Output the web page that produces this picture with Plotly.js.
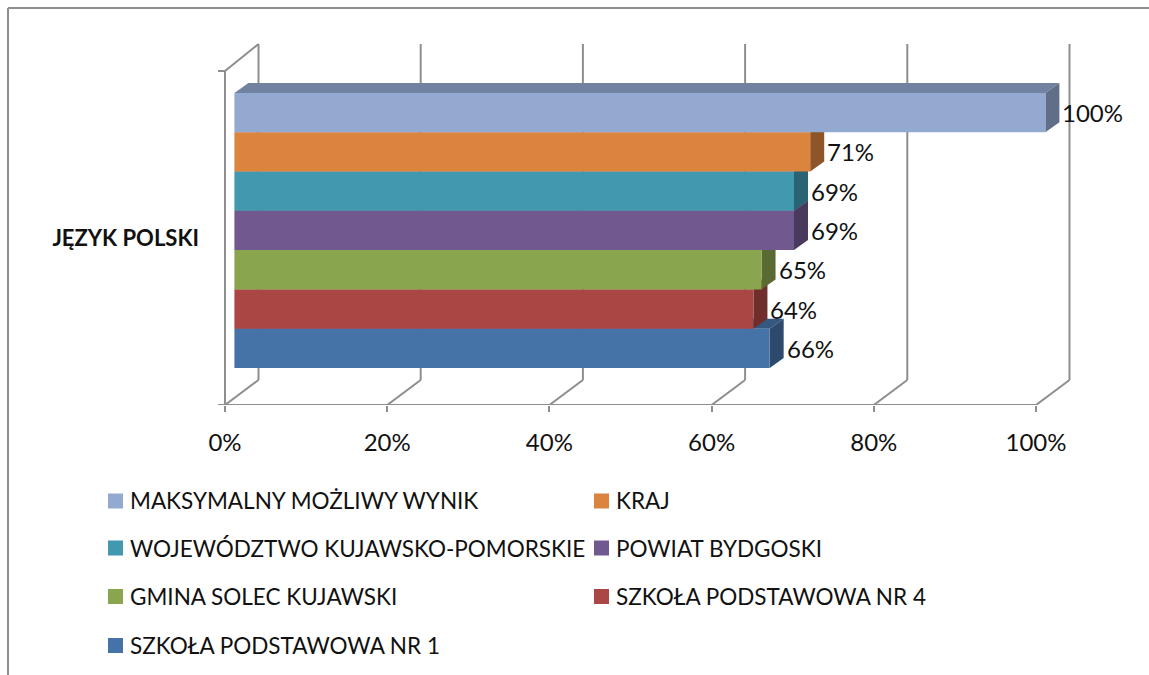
<!DOCTYPE html>
<html><head><meta charset="utf-8">
<script src="https://cdn.plot.ly/plotly-3.0.1.min.js"></script>
<style>html,body{margin:0;padding:0;background:#fff;overflow:hidden}</style>
</head><body><div id="chart" style="width:1149px;height:675px"></div>
<script>
const categories = ["JĘZYK POLSKI"];
const seriesNames = ["SZKOŁA PODSTAWOWA NR 1","SZKOŁA PODSTAWOWA NR 4","GMINA SOLEC KUJAWSKI","POWIAT BYDGOSKI","WOJEWÓDZTWO KUJAWSKO-POMORSKIE","KRAJ","MAKSYMALNY MOŻLIWY WYNIK"];
const seriesValues = [66,64,65,69,69,71,100];
const seriesColors = ["#4572A7","#AA4643","#89A54E","#71588F","#4198AF","#DB843D","#93A9D0"];
const xTicks = [0,20,40,60,80,100];
const W=1149,H=675,FONT="Lato, Carlito, sans-serif",GRID="#8e8e8e",TXT="#111";
// pixel calibration of the axes
const X0=225,X100=1036,YTOP=71,YBOT=405,PLOTB=405;
const pxPerX=(X100-X0)/100, pxPerY=YBOT-YTOP, yc=(YTOP+YBOT)/2;
const dx=p=>p/pxPerX, dy=p=>p/pxPerY;
const xRange=[(0-X0)/pxPerX,(W-X0)/pxPerX];
const yRange=[(yc-PLOTB)/pxPerY,(yc-0)/pxPerY];
const barStart=dx(9.4), barH=dy(39.3), barBottom=(yc-368)/pxPerY;
const depthX=dx(14), depthY=dy(10), wallX=dx(33.5), wallY=dy(25);
function shade(hex,f){const n=parseInt(hex.slice(1),16);
  return `rgb(${Math.round((n>>16&255)*f)},${Math.round((n>>8&255)*f)},${Math.round((n&255)*f)})`;}
const shapes=[];
const line=(x0,y0,x1,y1)=>({type:'line',xref:'x',yref:'y',x0,y0,x1,y1,layer:'below',line:{color:GRID,width:2}});
// walls
xTicks.forEach(v=>{
  shapes.push(line(v,-.5,v+wallX,-.5+wallY));
  shapes.push(line(v+wallX,-.5+wallY,v+wallX,.5+wallY+dy(2)));
});
shapes.push(line(0,-.5,100,-.5));
shapes.push(line(0,-.5,0,.5));
shapes.push(line(0,.5,wallX,.5+dy(2)+wallY));
shapes.push(line(-dx(7),.5,0,.5));
shapes.push(line(-dx(7),-.5,0,-.5));
// bar depth faces
seriesValues.forEach((v,i)=>{
  const x0=barStart,x1=barStart+v,y0=barBottom+i*barH,y1=y0+barH,c=seriesColors[i];
  const poly=(pts,fill)=>shapes.push({type:'path',xref:'x',yref:'y',layer:'below',
    path:'M'+pts.map(p=>p.join(',')).join('L')+'Z',fillcolor:fill,line:{width:0}});
  poly([[x0,y1],[x0+depthX,y1+depthY],[x1+depthX,y1+depthY],[x1,y1]],shade(c,.77));
  poly([[x1,y0],[x1+depthX,y0+depthY],[x1+depthX,y1+depthY],[x1,y1]],shade(c,.65));
});
// outer frame
const frame=(x0,y0,x1,y1)=>({type:'line',xref:'paper',yref:'paper',x0:x0/W,x1:x1/W,
  y0:(PLOTB-y0)/PLOTB,y1:(PLOTB-y1)/PLOTB,line:{color:GRID,width:2}});
shapes.push(frame(8,8,W,8),frame(8,8,8,H));
// bars
const traces=seriesValues.map((v,i)=>({type:'bar',orientation:'h',name:seriesNames[i],
  x:[v],y:[0],base:[barStart],width:[barH],offset:[barBottom+i*barH],
  marker:{color:seriesColors[i],line:{width:0}},showlegend:false,hoverinfo:'skip',cliponaxis:false}));
// value labels
const annotations=seriesValues.map((v,i)=>({xref:'x',yref:'y',x:barStart+v,y:barBottom+(i+.5)*barH,
  text:v+'%',showarrow:false,xanchor:'left',yanchor:'middle',xshift:15,yshift:0,font:{family:FONT,size:24,color:TXT}}));
// legend
const legendOrder=[6,5,4,3,2,1,0];
const rowsY=[501,548,596.5,645.5], colsX=[108,594];
legendOrder.forEach((s,k)=>{
  const r=Math.floor(k/2),c=k%2,x=colsX[c],y=rowsY[r];
  shapes.push({type:'rect',xref:'paper',yref:'paper',x0:x/W,x1:(x+15)/W,
    y0:(PLOTB-(y-7.5))/PLOTB,y1:(PLOTB-(y+7.5))/PLOTB,fillcolor:seriesColors[s],line:{width:0}});
  annotations.push({xref:'paper',yref:'paper',x:(x+20)/W,y:(PLOTB-y)/PLOTB,text:seriesNames[s],showarrow:false,
    xanchor:'left',yanchor:'middle',font:{family:FONT,size:22.5,color:TXT}});
});
Plotly.newPlot('chart',traces,{
  width:W,height:H,margin:{l:0,r:0,t:0,b:H-PLOTB},paper_bgcolor:'#fff',plot_bgcolor:'#fff',
  barmode:'overlay',showlegend:false,shapes,annotations,
  xaxis:{range:xRange,tickmode:'array',tickvals:xTicks,ticktext:xTicks.map(v=>v+'%'),showgrid:false,zeroline:false,showline:false,
    ticks:'outside',ticklen:6,tickwidth:2,tickcolor:GRID,ticklabelstandoff:10,tickfont:{family:FONT,size:24,color:TXT}},
  yaxis:{range:yRange,tickmode:'array',tickvals:[0],ticktext:categories,showgrid:false,zeroline:false,showline:false,
    anchor:'free',position:X0/W,ticks:'',ticklabelstandoff:26,tickfont:{family:FONT,size:22,color:TXT,weight:'bold'}}
},{displayModeBar:false,staticPlot:true});
</script></body></html>
